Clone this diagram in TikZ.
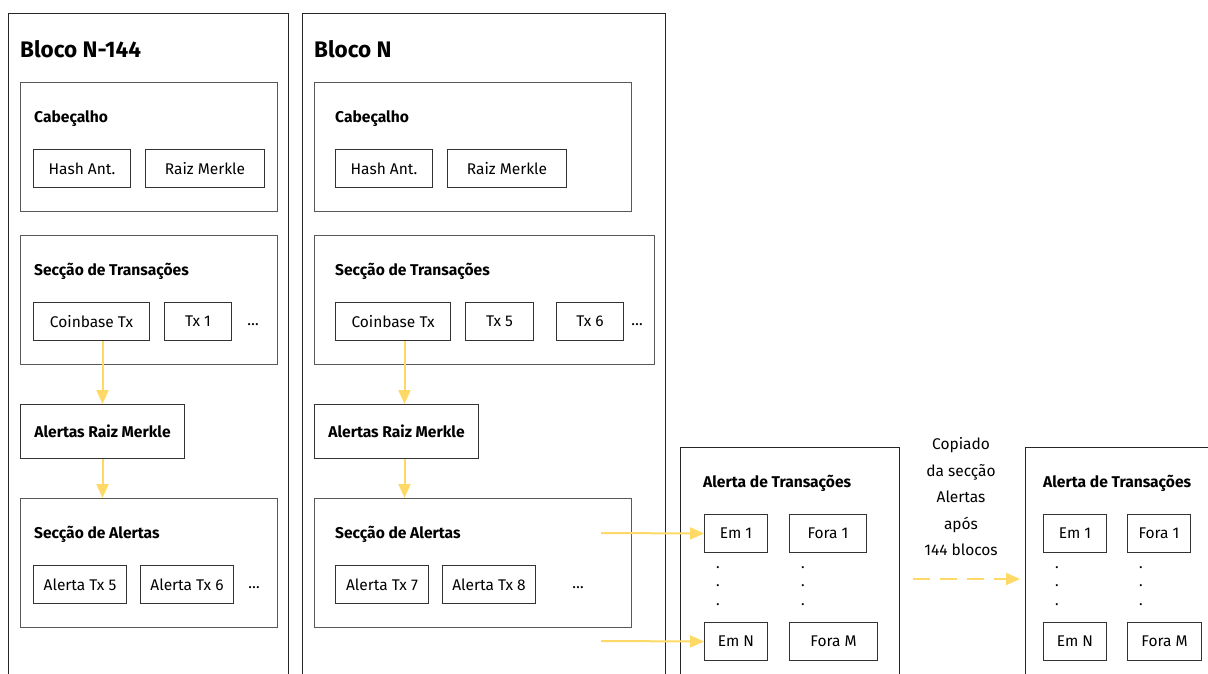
\documentclass[tikz,border=0pt]{standalone}
\usepackage{fontspec}
\setmainfont{Fira Sans}
\usetikzlibrary{arrows.meta}
\definecolor{alertyellow}{HTML}{FFD966}

\tikzset{
  blockframe/.style={draw=black!85, line width=1pt, anchor=north west, inner sep=0pt},
  section/.style={draw=black!65, line width=1pt, anchor=north west, inner sep=0pt},
  item/.style={draw=black!80, line width=1pt, anchor=north west, minimum height=38pt,
    inner sep=0pt, font=\fontsize{15.5}{17}\selectfont},
  head/.style={anchor=base west, inner sep=0pt, font=\fontsize{15.6}{18}\selectfont\bfseries},
  title/.style={anchor=base west, inner sep=0pt, font=\fontsize{22.5}{26}\selectfont\bfseries},
  more/.style={inner sep=0pt, font=\fontsize{15.5}{17}\selectfont},
  flow/.style={draw=alertyellow, line width=2pt,
    -{Triangle[length=14pt,width=12pt,fill=alertyellow]}},
}

\begin{document}
\begin{tikzpicture}[x=1pt,y=-1pt]
    \useasboundingbox (0,0) rectangle (1208,673);
    \clip (0,0) rectangle (1208,673);

    % block N-144
    \node[blockframe, minimum width=280pt, minimum height=700pt] (blk1) at (8,13) {};
    \node[title] (t1) at (20,57.5) {Bloco N-144};

    \node[section, minimum width=257pt, minimum height=129pt] (cab1) at (20,82) {};
    \node[head] (cabh1) at (34,122.5) {Cabeçalho};
    \node[item, minimum width=97pt] (hash1) at (33,149) {Hash Ant.};
    \node[item, minimum width=119pt] (raiz1) at (145,149) {Raiz Merkle};

    \node[section, minimum width=257pt, minimum height=129pt] (tx1) at (20,235) {};
    \node[head] (txh1) at (34,275.5) {Secção de Transações};
    \node[item, minimum width=116pt] (coin1) at (33,302) {Coinbase Tx};
    \node[item, minimum width=67pt] (txa1) at (164,302) {Tx 1};
    \node[more] (txm1) at (253,325) {…};

    \node[section, draw=black!80, minimum width=164pt, minimum height=54pt,
      font=\fontsize{15.6}{18}\selectfont\bfseries] (arm1) at (20,404) {Alertas Raiz Merkle};

    \node[section, minimum width=257pt, minimum height=129pt] (al1) at (20,498) {};
    \node[head] (alh1) at (34,538.5) {Secção de Alertas};
    \node[item, minimum width=93pt] (ala1) at (33,565) {Alerta Tx 5};
    \node[item, minimum width=93pt] (alb1) at (140,565) {Alerta Tx 6};
    \node[more] (alm1) at (254,588) {…};

    \draw[flow] (coin1.south -| arm1.north) -- (arm1.north);
    \draw[flow] (arm1.south) -- (al1.north -| arm1.south);

    % block N
    \node[blockframe, minimum width=363pt, minimum height=700pt] (blk2) at (302,13) {};
    \node[title] (t2) at (314,57.5) {Bloco N};

    \node[section, minimum width=317pt, minimum height=129pt] (cab2) at (314,82) {};
    \node[head] (cabh2) at (335,122.5) {Cabeçalho};
    \node[item, minimum width=97pt] (hash2) at (335,149) {Hash Ant.};
    \node[item, minimum width=119pt] (raiz2) at (447,149) {Raiz Merkle};

    \node[section, minimum width=340pt, minimum height=129pt] (tx2) at (314,235) {};
    \node[head] (txh2) at (335,275.5) {Secção de Transações};
    \node[item, minimum width=115pt] (coin2) at (335,302) {Coinbase Tx};
    \node[item, minimum width=68pt] (txa2) at (465,302) {Tx 5};
    \node[item, minimum width=67pt] (txb2) at (556,302) {Tx 6};
    \node[more] (txm2) at (637,325) {…};

    \node[section, draw=black!80, minimum width=164pt, minimum height=54pt,
      font=\fontsize{15.6}{18}\selectfont\bfseries] (arm2) at (314,404) {Alertas Raiz Merkle};

    \node[section, minimum width=317pt, minimum height=129pt] (al2) at (314,498) {};
    \node[head] (alh2) at (335,538.5) {Secção de Alertas};
    \node[item, minimum width=93pt] (ala2) at (335,565) {Alerta Tx 7};
    \node[item, minimum width=93pt] (alb2) at (442,565) {Alerta Tx 8};
    \node[more] (alm2) at (578,588) {…};

    \draw[flow] ([xshift=8pt]coin2.south -| arm2.north) -- ([xshift=8pt]arm2.north);
    \draw[flow] ([xshift=8pt]arm2.south) -- ([xshift=8pt]al2.north -| arm2.south);

    % alert tx set inside block N
    \node[section, draw=black!85, minimum width=219pt, minimum height=300pt] (set1) at (680,447) {};
    \node[head] (seth1) at (703,487.5) {Alerta de Transações};
    \node[item, minimum width=63pt] (in1) at (704,514) {Em 1};
    \node[item, minimum width=77pt] (out1) at (789,514) {Fora 1};
    \node[item, minimum width=63pt] (inN) at (704,622) {Em N};
    \node[item, minimum width=88pt] (outM) at (789,622) {Fora M};
    \node[more, align=center, font=\fontsize{15}{18.5}\selectfont] (ind1) at (718,586) {.\\.\\.};
    \node[more, align=center, font=\fontsize{15}{18.5}\selectfont] (outd1) at (803,586) {.\\.\\.};

    \coordinate (src1) at (601,533);
    \coordinate (srcN) at (601,641);
    \draw[flow] (src1) -- (in1.west);
    \draw[flow] (srcN) -- (inN.west);

    % copy after 144 blocks
    \node[more, align=center, font=\fontsize{15.5}{26.5}\selectfont] (copy) at (961,497)
      {Copiado\\da secção\\Alertas\\após\\144 blocos};
    \coordinate (cpa) at (913,579);
    \coordinate (cpb) at (1020,579);
    \draw[flow, dash pattern=on 17pt off 10pt] (cpa) -- (cpb);

    % alert tx set of block N+144
    \node[section, draw=black!85, minimum width=240pt, minimum height=300pt] (set2) at (1025,447) {};
    \node[head] (seth2) at (1043,487.5) {Alerta de Transações};
    \node[item, minimum width=63pt] (in2) at (1043,514) {Em 1};
    \node[item, minimum width=63pt] (out2) at (1127,514) {Fora 1};
    \node[item, minimum width=63pt] (inN2) at (1043,622) {Em N};
    \node[item, minimum width=74pt] (outM2) at (1127,622) {Fora M};
    \node[more, align=center, font=\fontsize{15}{18.5}\selectfont] (ind2) at (1057,586) {.\\.\\.};
    \node[more, align=center, font=\fontsize{15}{18.5}\selectfont] (outd2) at (1141,586) {.\\.\\.};
\end{tikzpicture}
\end{document}
